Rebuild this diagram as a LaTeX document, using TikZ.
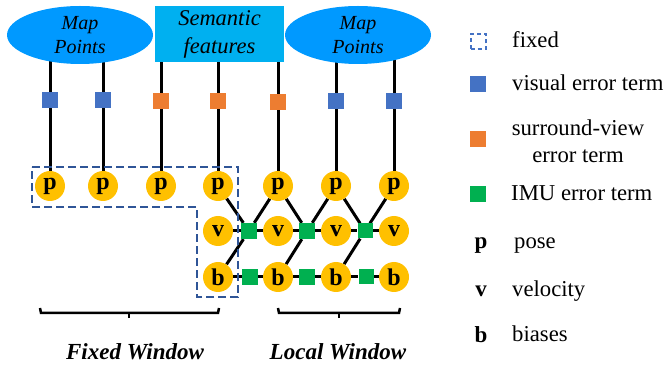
\documentclass[tikz,border=0pt]{standalone}
\usepackage{fontspec}
\setmainfont{Liberation Serif}
\usetikzlibrary{shapes.geometric,backgrounds}
\definecolor{mapblue}{RGB}{0,153,255}
\definecolor{semblue}{RGB}{0,176,240}
\definecolor{stateyel}{RGB}{255,192,0}
\definecolor{visblue}{RGB}{68,114,196}
\definecolor{svorange}{RGB}{237,125,49}
\definecolor{imugreen}{RGB}{0,176,80}
\definecolor{fixblue}{RGB}{47,85,151}
\begin{document}
\begin{tikzpicture}[x=1pt,y=-1pt,
 mapnode/.style={ellipse, fill=mapblue, minimum width=146pt, minimum height=58pt, inner sep=0pt, align=center, font=\fontsize{20}{24}\selectfont\itshape},
 semnode/.style={rectangle, fill=semblue, minimum width=129pt, minimum height=56pt, inner sep=0pt, align=center, font=\fontsize{22.5}{28}\selectfont\itshape},
 state/.style={circle, fill=stateyel, minimum size=30pt, inner sep=0pt, font=\fontsize{24}{24}\selectfont\bfseries},
 visfac/.style={rectangle, fill=visblue, minimum size=16pt, inner sep=0pt},
 svfac/.style={rectangle, fill=svorange, minimum size=16pt, inner sep=0pt},
 imufac/.style={rectangle, fill=imugreen, minimum size=16pt, inner sep=0pt},
 edge/.style={line width=3pt, black},
 fixline/.style={line width=2.5pt, fixblue, dash pattern=on 8pt off 4pt},
 bracket/.style={line width=2.5pt, black},
 wintext/.style={font=\fontsize{23}{26}\selectfont\bfseries\itshape},
 legtext/.style={anchor=west, inner sep=0pt, font=\fontsize{22.7}{27}\selectfont},
 legsym/.style={inner sep=0pt, font=\fontsize{23}{26}\selectfont\bfseries}
]
\useasboundingbox (0,0) rectangle (665,366);

% sources
\node[mapnode] (m1) at (80,35) {Map\\Points};
\node[semnode] (sem) at (219.5,34) {Semantic\\features};
\node[mapnode] (m2) at (358,35) {Map\\Points};

% factor squares
\node[visfac] (s1) at (50,100) {};
\node[visfac] (s2) at (103,100) {};
\node[svfac] (s3) at (161,101) {};
\node[svfac] (s4) at (218,101) {};
\node[svfac] (s5) at (278,102) {};
\node[visfac] (s6) at (336,101) {};
\node[visfac] (s7) at (394,101) {};

% poses
\node[state] (p1) at (50,186) {p};
\node[state] (p2) at (103,186) {p};
\node[state] (p3) at (161,186) {p};
\node[state] (p4) at (218,186) {p};
\node[state] (p5) at (278,186) {p};
\node[state] (p6) at (336,186) {p};
\node[state] (p7) at (394,186) {p};

% velocities
\node[state] (v4) at (218,231) {v};
\node[state] (v5) at (278,231) {v};
\node[state] (v6) at (336,231) {v};
\node[state] (v7) at (394,231) {v};

% biases
\node[state] (b4) at (218,277) {b};
\node[state] (b5) at (278,277) {b};
\node[state] (b6) at (336,277) {b};
\node[state] (b7) at (394,277) {b};

% IMU factors
\node[imufac] (g1) at (249,231) {};
\node[imufac] (g2) at (307,231) {};
\node[imufac, minimum size=15pt] (g3) at (365,231) {};
\node[imufac] (h1) at (250,277) {};
\node[imufac] (h2) at (307,277) {};
\node[imufac, minimum size=15pt] (h3) at (366,277) {};

\begin{scope}[on background layer]
\draw[edge] (s1 |- m1.center) -- (s1) -- (p1);
\draw[edge] (s2 |- m1.center) -- (s2) -- (p2);
\draw[edge] (s3 |- sem.center) -- (s3) -- (p3);
\draw[edge] (s4 |- sem.center) -- (s4) -- (p4);
\draw[edge] (s5 |- sem.center) -- (s5) -- (p5);
\draw[edge] (s6 |- m2.center) -- (s6) -- (p6);
\draw[edge] (s7 |- m2.center) -- (s7) -- (p7);
\draw[edge] (v4) -- (g1) -- (v5) -- (g2) -- (v6) -- (g3) -- (v7);
\draw[edge] (b4) -- (h1) -- (b5) -- (h2) -- (b6) -- (h3) -- (b7);
\draw[edge] (p4) -- (g1) -- (p5);
\draw[edge] (p5) -- (g2) -- (p6);
\draw[edge] (p6) -- (g3) -- (p7);
\draw[edge] (b4) -- (g1);
\draw[edge] (b5) -- (g2);
\draw[edge] (b6) -- (g3);
\end{scope}

% fixed region
\draw[fixline] (32,167) -- (238,167) -- (238,297) -- (197,297) -- (197,207) -- (32,207) -- cycle;

% brackets
\draw[bracket] (40,308) -- (41,313) -- (218,313) -- (219,308);
\draw[bracket] (129,313) -- (129,318);
\draw[bracket] (278,308) -- (279,313) -- (399,313) -- (400,308);
\draw[bracket] (339,313) -- (339,318);
\node[wintext] (fw) at (135,352) {Fixed Window};
\node[wintext] (lw) at (338,352) {Local Window};

% legend
\node[draw=visblue, line width=2pt, dash pattern=on 4pt off 3pt, minimum size=15pt, inner sep=0pt] (lfix) at (478,42) {};
\node[legtext] (tfix) at (512,40) {fixed};
\node[visfac] (lvis) at (478,84) {};
\node[legtext] (tvis) at (512,83) {visual error term};
\node[svfac] (lsv) at (478,139) {};
\node[inner sep=0pt, align=center, font=\fontsize{22.7}{27}\selectfont] (tsv) at (578,141) {surround-view\\error term};
\node[imufac] (limu) at (478,194) {};
\node[legtext] (timu) at (511,193) {IMU error term};
\node[legsym] (lp) at (481,246) {p};
\node[legtext] (tp) at (514,246) {pose};
\node[legsym] (lv) at (481,291) {v};
\node[legtext] (tv) at (512,291) {velocity};
\node[legsym] (lb) at (481,335) {b};
\node[legtext] (tb) at (512,334) {biases};
\end{tikzpicture}
\end{document}
